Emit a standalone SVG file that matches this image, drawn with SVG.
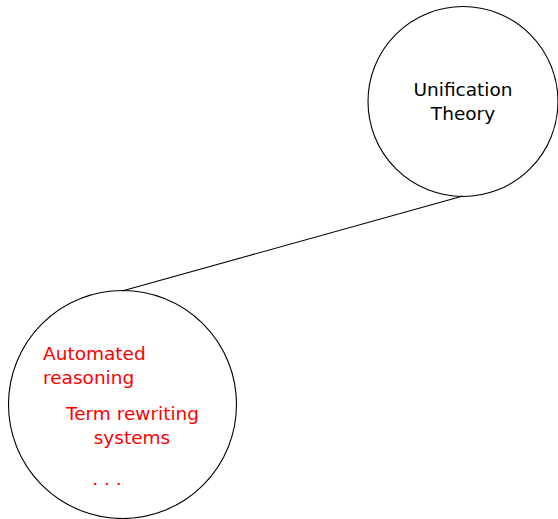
<svg xmlns="http://www.w3.org/2000/svg" width="558" height="519" viewBox="0 0 558 519">
  <style>
    .node { fill: none; stroke: #000; stroke-width: 1.1; }
    .edge { stroke: #000; stroke-width: 1.1; fill: none; }
    .lbl { font-family: "DejaVu Sans", "Liberation Sans", sans-serif; font-size: 18.5px; }
    .dark { fill: #000; }
    .red { fill: #ff0000; }
  </style>
  <rect width="558" height="519" fill="#fff"/>
  <g id="connectors">
    <line class="edge" x1="463" y1="196" x2="122" y2="291"/>
  </g>
  <g id="unification">
    <circle class="node" cx="463" cy="101.5" r="95"/>
    <text class="lbl dark" text-anchor="middle" x="463" y="96">Unification</text>
    <text class="lbl dark" text-anchor="middle" x="463" y="120">Theory</text>
  </g>
  <g id="applications">
    <circle class="node" cx="122.5" cy="404.5" r="114"/>
    <text class="lbl red" x="43" y="360">Automated</text>
    <text class="lbl red" x="43" y="384">reasoning</text>
    <text class="lbl red" text-anchor="middle" x="132.5" y="420">Term rewriting</text>
    <text class="lbl red" text-anchor="middle" x="132" y="444">systems</text>
    <text class="lbl red" text-anchor="middle" x="107" y="485">. . .</text>
  </g>
</svg>
